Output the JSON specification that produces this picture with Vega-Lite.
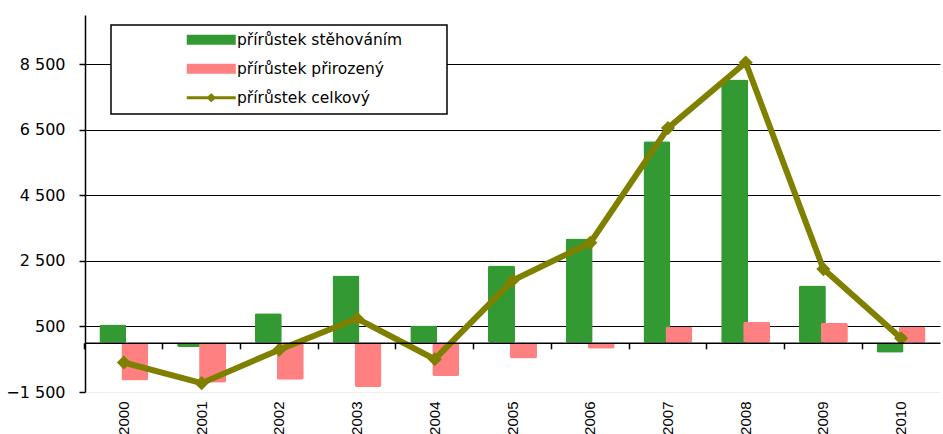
{
  "$schema": "https://vega.github.io/schema/vega-lite/v6.json",
  "width": 855,
  "height": 377,
  "autosize": {"type": "none"},
  "padding": {"left": 85, "top": 15, "right": 3, "bottom": 42},
  "background": "white",
  "config": {
    "view": {"stroke": null},
    "font": "DejaVu Sans",
    "axis": {"labelColor": "black", "labelFont": "DejaVu Sans"}
  },
  "data": {
    "values": [
      {"year": "2000", "series": "přírůstek stěhováním", "value": 560},
      {"year": "2001", "series": "přírůstek stěhováním", "value": -130},
      {"year": "2002", "series": "přírůstek stěhováním", "value": 900},
      {"year": "2003", "series": "přírůstek stěhováním", "value": 2050},
      {"year": "2004", "series": "přírůstek stěhováním", "value": 530},
      {"year": "2005", "series": "přírůstek stěhováním", "value": 2360},
      {"year": "2006", "series": "přírůstek stěhováním", "value": 3180},
      {"year": "2007", "series": "přírůstek stěhováním", "value": 6150},
      {"year": "2008", "series": "přírůstek stěhováním", "value": 8030},
      {"year": "2009", "series": "přírůstek stěhováním", "value": 1750},
      {"year": "2010", "series": "přírůstek stěhováním", "value": -300},
      {"year": "2000", "series": "přírůstek přirozený", "value": -1150},
      {"year": "2001", "series": "přírůstek přirozený", "value": -1220},
      {"year": "2002", "series": "přírůstek přirozený", "value": -1130},
      {"year": "2003", "series": "přírůstek přirozený", "value": -1350},
      {"year": "2004", "series": "přírůstek přirozený", "value": -1015},
      {"year": "2005", "series": "přírůstek přirozený", "value": -475},
      {"year": "2006", "series": "přírůstek přirozený", "value": -180},
      {"year": "2007", "series": "přírůstek přirozený", "value": 490},
      {"year": "2008", "series": "přírůstek přirozený", "value": 645},
      {"year": "2009", "series": "přírůstek přirozený", "value": 615},
      {"year": "2010", "series": "přírůstek přirozený", "value": 480},
      {"year": "2000", "series": "přírůstek celkový", "value": -600},
      {"year": "2001", "series": "přírůstek celkový", "value": -1230},
      {"year": "2002", "series": "přírůstek celkový", "value": -210},
      {"year": "2003", "series": "přírůstek celkový", "value": 740},
      {"year": "2004", "series": "přírůstek celkový", "value": -500},
      {"year": "2005", "series": "přírůstek celkový", "value": 1900},
      {"year": "2006", "series": "přírůstek celkový", "value": 3050},
      {"year": "2007", "series": "přírůstek celkový", "value": 6550},
      {"year": "2008", "series": "přírůstek celkový", "value": 8550},
      {"year": "2009", "series": "přírůstek celkový", "value": 2250},
      {"year": "2010", "series": "přírůstek celkový", "value": 140}
    ]
  },
  "layer": [
    {
      "transform": [{"filter": "datum.series !== 'přírůstek celkový'"}],
      "mark": {"type": "bar", "width": 27, "cornerRadius": 2},
      "encoding": {
        "x": {
          "field": "year", "type": "ordinal",
          "scale": {"paddingInner": 0.434, "paddingOuter": 0.217},
          "axis": {
            "title": null, "orient": "bottom", "domain": false, "ticks": false,
            "labelAngle": -90, "labelFontSize": 15, "labelFont": "Liberation Sans", "labelPadding": 9, "grid": false
          }
        },
        "xOffset": {
          "field": "series", "type": "nominal",
          "scale": {"domain": ["přírůstek stěhováním", "přírůstek přirozený"], "paddingInner": 0, "paddingOuter": 0}
        },
        "y": {
          "field": "value", "type": "quantitative",
          "scale": {"domain": [-1500, 10000], "nice": false, "zero": false},
          "axis": {
            "title": null,
            "values": [-1500, 500, 2500, 4500, 6500, 8500],
            "labelExpr": "replace(format(datum.value, ','), ',', ' ')",
            "labelFontSize": 16, "labelPadding": 14,
            "tickSize": 6, "tickColor": "black", "tickWidth": 1.5,
            "domainColor": "black", "domainWidth": 1.5,
            "grid": true,
            "gridColor": {"condition": {"test": "datum.value === -1500", "value": "#eeeeee"}, "value": "black"},
            "gridWidth": 1
          }
        },
        "color": {
          "field": "series", "type": "nominal",
          "scale": {
            "domain": ["přírůstek stěhováním", "přírůstek přirozený", "přírůstek celkový"],
            "range": ["#339933", "#FF8080", "#808000"]
          },
          "legend": {
            "title": " ",
            "titleOrient": "right",
            "titleFontSize": 1,
            "titlePadding": 38,
            "orient": "none",
            "legendX": 26,
            "legendY": 10,
            "padding": 7,
            "fillColor": "white",
            "strokeColor": "black",
            "symbolSize": 100,
            "symbolOffset": 85.5,
            "labelOffset": 18,
            "labelLimit": 400,
            "labelFontSize": 15.5,
            "labelFont": "DejaVu Sans",
            "labelColor": "black",
            "rowPadding": 12,
            "symbolType": "M-4.9,-1H4.9V1H-4.9Z",
            "encode": {
              "legend": {"update": {"strokeWidth": {"value": 1.5}}},
              "symbols": {
                "update": {
                  "shape": {"signal": "datum.value === 'přírůstek celkový' ? 'M-4.9,-0.3H-0.667L0,-0.9L0.667,-0.3H4.9V0.3H0.667L0,0.9L-0.667,0.3H-4.9Z' : 'M-4.9,-1H4.9V1H-4.9Z'"},
                  "fill": {"signal": "scale('color', datum.value)"},
                  "strokeWidth": {"value": 0},
                  "opacity": {"value": 1},
                  "size": {"value": 100}
                }
              }
            }
          }
        }
      }
    },
    {
      "transform": [{"filter": "datum.series === 'přírůstek celkový'"}],
      "mark": {"type": "line", "strokeWidth": 6},
      "encoding": {
        "x": {
          "field": "year", "type": "ordinal",
          "scale": {"paddingInner": 0.434, "paddingOuter": 0.217},
          "axis": {
            "title": null, "orient": "top", "labels": false, "grid": false,
            "domain": true, "domainColor": "black", "domainWidth": 1.5,
            "ticks": true, "tickColor": "black", "tickWidth": 1.5, "tickSize": -6,
            "bandPosition": -0.384,
            "offset": -327.8,
            "zindex": 1
          }
        },
        "y": {"field": "value", "type": "quantitative"},
        "color": {"field": "series", "type": "nominal"}
      }
    },
    {
      "transform": [{"filter": "datum.series === 'přírůstek celkový'"}],
      "mark": {"type": "point", "shape": "diamond", "filled": true, "size": 200, "opacity": 1},
      "encoding": {
        "x": {"field": "year", "type": "ordinal", "axis": null},
        "y": {"field": "value", "type": "quantitative"},
        "color": {"field": "series", "type": "nominal"}
      }
    }
  ],
  "resolve": {"axis": {"x": "independent"}}
}
